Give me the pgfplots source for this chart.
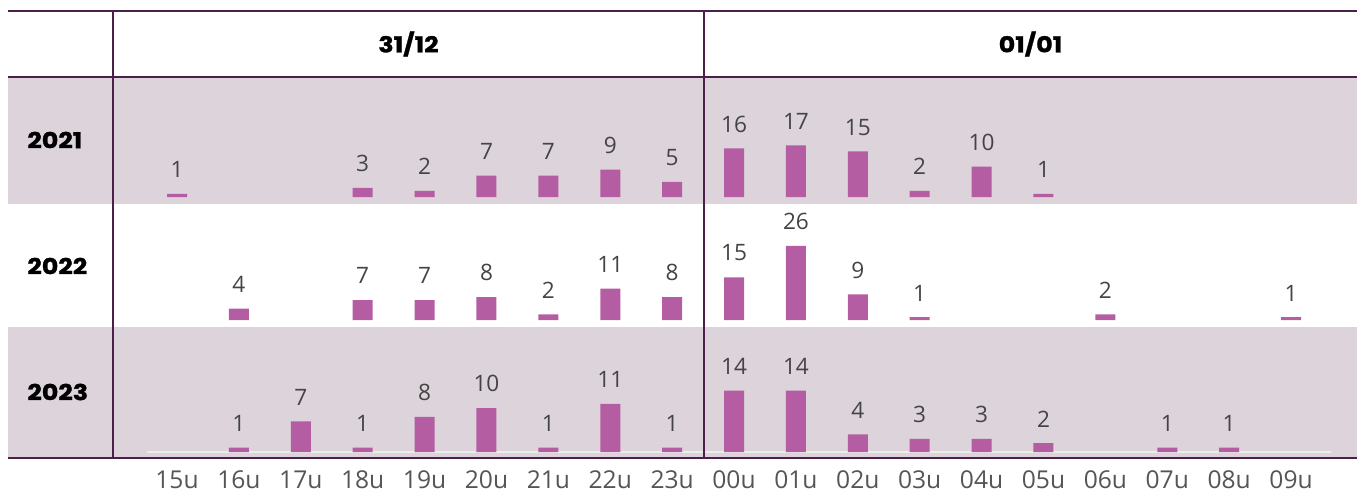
\documentclass[border=0pt]{standalone}
\usepackage{fontspec}
\setmainfont{Open Sans}
\newfontfamily\hdrfont{Poppins}[FakeStretch=1.15, FakeBold=1.2]
\usepackage{pgfplots}
\pgfplotsset{compat=1.18}

\definecolor{band}{HTML}{DCD3DB}
\definecolor{barcol}{HTML}{B55DA3}
\definecolor{rulecol}{HTML}{4B1F47}
\definecolor{valtxt}{HTML}{444444}
\definecolor{ticktxt}{HTML}{555555}

% one axis per year row; 1px of the reference = 0.5pt
\pgfplotsset{
  rowaxis/.style={
    x=30.945pt, xmin=-2.731, xmax=19.066,
    anchor=south west, enlargelimits=false, clip=false,
    axis line style={draw=none}, tick style={draw=none},
    ytick=\empty, xtick=\empty,
    ybar, bar width=10pt,
    /pgf/number format/assume math mode=true,
    nodes near coords,
    every node near coord/.append style={font=\fontsize{11.3}{13}\selectfont,
      text=valtxt, yshift=4.5pt},
  },
}

\begin{document}
\begin{tikzpicture}
\path[use as bounding box] (0,0) rectangle (680.5pt,-247pt);

% row bands
\fill[band] (4pt,-38.5pt) rectangle (678.5pt,-102pt);
\fill[band] (4pt,-163.5pt) rectangle (678.5pt,-229pt);

% 2021
\begin{axis}[rowaxis, at={(4pt,-102pt)}, y=1.52pt, ymin=-2.30, ymax=39.47]
\addplot[fill=barcol, draw=none] coordinates {
(0,1) (3,3) (4,2) (5,7) (6,7) (7,9) (8,5) (9,16) (10,17) (11,15) (12,2) (13,10) (14,1)};
\end{axis}

% 2022
\begin{axis}[rowaxis, at={(4pt,-163.5pt)}, y=1.425pt, ymin=-2.456, ymax=40.70]
\addplot[fill=barcol, draw=none] coordinates {
(1,4) (3,7) (4,7) (5,8) (6,2) (7,11) (8,8) (9,15) (10,26) (11,9) (12,1) (15,2) (18,1)};
\end{axis}

% 2023
\begin{axis}[rowaxis, at={(4pt,-229pt)}, y=2.19pt, ymin=-1.37, ymax=28.54,
  xtick={0,...,18},
  xticklabels={15u,16u,17u,18u,19u,20u,21u,22u,23u,00u,01u,02u,03u,04u,05u,06u,07u,08u,09u},
  xticklabel style={font=\fontsize{12.3}{14}\selectfont, text=ticktxt, yshift=1.5pt}]
\draw[white!85!gray, line width=0.75pt] (axis cs:-0.485,0) -- (axis cs:18.65,0);
\addplot[fill=barcol, draw=none] coordinates {
(1,1) (2,7) (3,1) (4,8) (5,10) (6,1) (7,11) (8,1) (9,14) (10,14) (11,4) (12,3) (13,3) (14,2) (16,1) (17,1)};
\end{axis}

% rules
\draw[rulecol, line width=1.3pt] (4pt,-5.5pt) -- (678.5pt,-5.5pt);
\draw[rulecol, line width=1.1pt] (4pt,-38.5pt) -- (678.5pt,-38.5pt);
\draw[rulecol, line width=1.3pt] (4pt,-229pt) -- (678.5pt,-229pt);
\draw[rulecol, line width=0.7pt] (56.5pt,-5.5pt) -- (56.5pt,-229pt);
\draw[rulecol, line width=0.7pt] (352pt,-5.5pt) -- (352pt,-229pt);

% headers
\node[font=\hdrfont\bfseries\fontsize{11}{12}\selectfont] at (204.25pt,-22pt) {31/12};
\node[font=\hdrfont\bfseries\fontsize{11}{12}\selectfont] at (515.25pt,-22pt) {01/01};
\node[anchor=west, inner sep=0pt, font=\hdrfont\bfseries\fontsize{11}{12}\selectfont] at (13.5pt,-70pt) {2021};
\node[anchor=west, inner sep=0pt, font=\hdrfont\bfseries\fontsize{11}{12}\selectfont] at (13.5pt,-133pt) {2022};
\node[anchor=west, inner sep=0pt, font=\hdrfont\bfseries\fontsize{11}{12}\selectfont] at (13.5pt,-196pt) {2023};
\end{tikzpicture}
\end{document}
